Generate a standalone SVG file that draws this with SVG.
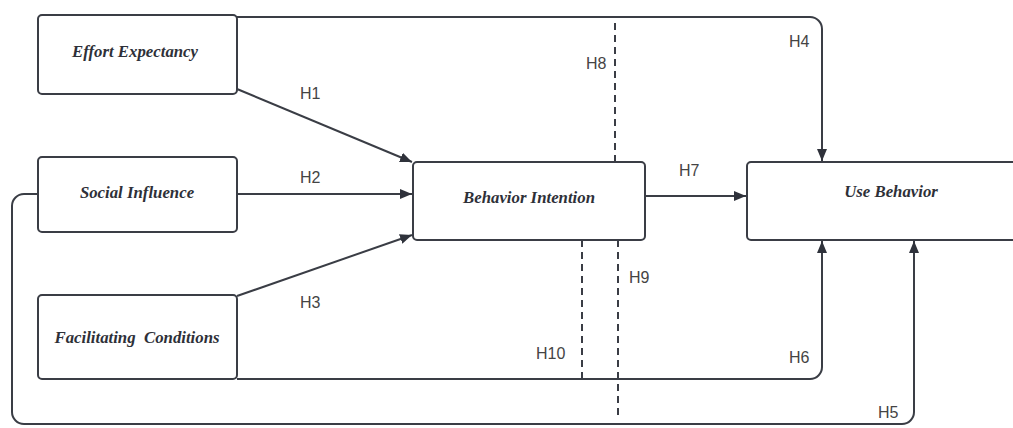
<svg xmlns="http://www.w3.org/2000/svg" width="1013" height="428" viewBox="0 0 1013 428">
<style>
.box{fill:#fff;stroke:#3a3d45;stroke-width:2}
.lbl{font-family:"Liberation Serif","Times New Roman",serif;font-style:italic;font-weight:bold;font-size:16.8px;fill:#2e3038;text-anchor:middle}
.h{font-family:"Liberation Sans",Arial,sans-serif;font-size:16px;fill:#444}
.c{fill:none;stroke:#3a3d45;stroke-width:2}
.d{fill:none;stroke:#3a3d45;stroke-width:2;stroke-dasharray:7 5}
</style>
<defs>
<marker id="arr" viewBox="0 0 12 10" refX="12" refY="5" markerWidth="12" markerHeight="10" markerUnits="userSpaceOnUse" orient="auto">
<path d="M0,0 L12,5 L0,10 Z" fill="#2f323b"/>
</marker>
</defs>
<rect width="1013" height="428" fill="#fff"/>
<g id="connectors">
<path class="c" d="M237,17 H810 A12,12 0 0 1 822,29 V161" marker-end="url(#arr)"/>
<path class="c" d="M237,89 L412,162" marker-end="url(#arr)"/>
<path class="c" d="M237,194 H412" marker-end="url(#arr)"/>
<path class="c" d="M237,296 L412,235" marker-end="url(#arr)"/>
<path class="c" d="M645,196 H746" marker-end="url(#arr)"/>
<path class="c" d="M237,379 H810 A12,12 0 0 0 822,367 V241" marker-end="url(#arr)"/>
<path class="c" d="M38,194 H24 A12,12 0 0 0 12,206 V412 A12,12 0 0 0 24,424 H902 A12,12 0 0 0 914,412 V241" marker-end="url(#arr)"/>
<path class="d" d="M615,23 V162"/>
<path class="d" d="M582,240 V379"/>
<path class="d" d="M618,240 V419"/>
</g>
<g id="effort-expectancy">
<rect class="box" x="38" y="15" width="199" height="79" rx="4"/>
<text class="lbl" x="135" y="57">Effort Expectancy</text>
</g>
<g id="social-influence">
<rect class="box" x="38" y="157" width="199" height="75" rx="4"/>
<text class="lbl" x="137" y="198">Social Influence</text>
</g>
<g id="facilitating-conditions">
<rect class="box" x="38" y="295" width="199" height="84" rx="4"/>
<text class="lbl" x="137" y="343" xml:space="preserve">Facilitating  Conditions</text>
</g>
<g id="behavior-intention">
<rect class="box" x="413" y="162" width="232" height="78" rx="4"/>
<text class="lbl" x="529" y="203">Behavior Intention</text>
</g>
<g id="use-behavior">
<rect class="box" x="747" y="162" width="300" height="78" rx="4"/>
<text class="lbl" x="891" y="197">Use Behavior</text>
</g>
<g id="labels">
<text class="h" x="300" y="99">H1</text>
<text class="h" x="300" y="183">H2</text>
<text class="h" x="300" y="308">H3</text>
<text class="h" x="789" y="47">H4</text>
<text class="h" x="878" y="418">H5</text>
<text class="h" x="789" y="363">H6</text>
<text class="h" x="679" y="176">H7</text>
<text class="h" x="586" y="69">H8</text>
<text class="h" x="629" y="283">H9</text>
<text class="h" x="536" y="359">H10</text>
</g>
</svg>
